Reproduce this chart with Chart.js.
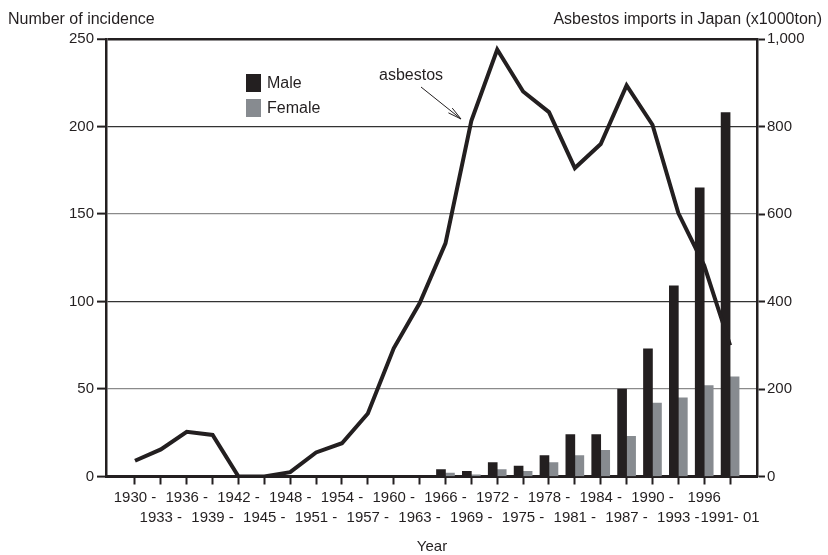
<!DOCTYPE html>
<html>
<head>
<meta charset="utf-8">
<title>Asbestos imports and mesothelioma incidence in Japan</title>
<script src="https://cdn.jsdelivr.net/npm/chart.js@4/dist/chart.umd.min.js"></script>
<style>
  html, body { margin: 0; padding: 0; background: #ffffff; }
  #chart { display: block; }
</style>
</head>
<body>
<canvas id="chart" width="828" height="555"></canvas>
<script>
// Three-year periods along the x axis
const periods = ['1930 -', '1933 -', '1936 -', '1939 -', '1942 -', '1945 -', '1948 -', '1951 -',
  '1954 -', '1957 -', '1960 -', '1963 -', '1966 -', '1969 -', '1972 -', '1975 -', '1978 -',
  '1981 -', '1984 -', '1987 -', '1990 -', '1993 -', '1996', '1991- 01'];

// Number of incidence per period (left axis)
const maleCases = [null, null, null, null, null, null, null, null, null, null, null, null,
  4, 3, 8, 6, 12, 24, 24, 50, 73, 109, 165, 208];
const femaleCases = [null, null, null, null, null, null, null, null, null, null, null, null,
  2, 1, 4, 3, 8, 12, 15, 23, 42, 45, 52, 57];

// Asbestos imports in Japan, x1000 ton (right axis)
const asbestosImports = [36, 62, 102, 95, 0, 0, 10, 55, 76, 144, 293, 396,
  533, 813, 976, 880, 833, 705, 760, 894, 804, 602, 482, 300];

// Axis tick values
const incidenceTicks = [0, 50, 100, 150, 200, 250];
const importTicks = [0, 200, 400, 600, 800, 1000];

const INK = '#231f20';
const GREY = '#878b90';
const FONT = "'Liberation Sans', Arial, Helvetica, sans-serif";

Chart.defaults.font.family = FONT;
Chart.defaults.font.size = 15;
Chart.defaults.color = INK;

const toPoints = arr => arr.map((v, i) => ({ x: i, y: v }));

// Titles, legend and the "asbestos" pointer
const decorations = {
  id: 'decorations',
  afterDraw(chart) {
    const c = chart.ctx;
    c.save();
    c.fillStyle = INK;
    c.textBaseline = 'alphabetic';

    c.font = '16px ' + FONT;
    c.textAlign = 'left';
    c.fillText('Number of incidence', 8, 24);
    c.textAlign = 'right';
    c.fillText('Asbestos imports in Japan (x1000ton)', 822, 24);
    c.font = '15px ' + FONT;
    c.textAlign = 'center';
    c.fillText('Year', 432, 551);

    // legend
    c.font = '16px ' + FONT;
    const items = [
      { label: chart.data.datasets[0].label, color: chart.data.datasets[0].backgroundColor, y: 74 },
      { label: chart.data.datasets[1].label, color: chart.data.datasets[1].backgroundColor, y: 99 }
    ];
    c.textAlign = 'left';
    c.textBaseline = 'middle';
    items.forEach(it => {
      c.fillStyle = it.color;
      c.fillRect(246, it.y, 15, 18);
      c.fillStyle = INK;
      c.fillText(it.label, 267, it.y + 10);
    });

    // annotation
    c.textBaseline = 'alphabetic';
    c.fillText('asbestos', 379, 80);
    const x0 = 421, y0 = 87, x1 = 461, y1 = 119;
    c.strokeStyle = INK;
    c.lineWidth = 1;
    c.beginPath();
    c.moveTo(x0, y0);
    c.lineTo(x1, y1);
    const ang = Math.atan2(y1 - y0, x1 - x0);
    const len = 14, spread = 0.22;
    c.moveTo(x1, y1);
    c.lineTo(x1 - len * Math.cos(ang - spread), y1 - len * Math.sin(ang - spread));
    c.moveTo(x1, y1);
    c.lineTo(x1 - len * Math.cos(ang + spread), y1 - len * Math.sin(ang + spread));
    c.stroke();
    c.restore();
  }
};

new Chart(document.getElementById('chart'), {
  data: {
    datasets: [
      {
        type: 'bar', label: 'Male', data: toPoints(maleCases), yAxisID: 'y',
        backgroundColor: INK, borderWidth: 0, barThickness: 9, order: 1
      },
      {
        type: 'bar', label: 'Female', data: toPoints(femaleCases), yAxisID: 'y',
        backgroundColor: GREY, borderWidth: 0, barThickness: 9, order: 1
      },
      {
        type: 'line', label: 'asbestos', data: toPoints(asbestosImports), yAxisID: 'y1',
        borderColor: INK, borderWidth: 4, pointRadius: 0, tension: 0,
        borderJoinStyle: 'miter', borderCapStyle: 'butt', fill: false, order: 0
      }
    ]
  },
  options: {
    responsive: false,
    animation: false,
    events: [],
    layout: { padding: { top: 39, left: 0, right: 0, bottom: 0 } },
    plugins: { legend: { display: false }, tooltip: { enabled: false } },
    scales: {
      x: {
        type: 'linear', position: 'bottom', min: -1.12, max: 24.04, offset: false,
        afterBuildTicks: s => { s.ticks = periods.map((_, i) => ({ value: i })); },
        afterFit: s => { s.height = 78.5; },
        grid: { offset: false, drawOnChartArea: false, drawTicks: true, tickLength: 8, tickColor: INK, tickWidth: 2 },
        border: { display: true, color: INK, width: 3 },
        ticks: {
          autoSkip: false, maxRotation: 0, minRotation: 0, padding: 3, color: INK,
          font: { size: 15, lineHeight: 1.33 },
          callback: v => {
            const i = Math.round(v);
            return i % 2 === 0 ? [periods[i], ''] : ['', periods[i]];
          }
        }
      },
      y: {
        position: 'left', min: 0, max: 250,
        afterBuildTicks: s => { s.ticks = incidenceTicks.map(v => ({ value: v })); },
        afterFit: s => { s.width = 106; },
        grid: {
          drawOnChartArea: true, drawTicks: true, tickLength: 9, tickColor: INK, tickWidth: 2,
          color: ctx => {
            const v = ctx.tick ? ctx.tick.value : null;
            if (v === 0) return 'rgba(0,0,0,0)';
            if (v === 250) return INK;
            return (v === 50 || v === 150) ? '#8a8a8a' : '#333333';
          },
          lineWidth: ctx => (ctx.tick && ctx.tick.value === 250) ? 2.5 : 1.2
        },
        border: { display: true, color: INK, width: 2.5 },
        ticks: { padding: 3, color: INK, font: { size: 15 } }
      },
      y1: {
        position: 'right', min: 0, max: 1000,
        afterBuildTicks: s => { s.ticks = importTicks.map(v => ({ value: v })); },
        afterFit: s => { s.width = 71; },
        grid: { drawOnChartArea: false, drawTicks: true, tickLength: 8, tickColor: INK, tickWidth: 2 },
        border: { display: true, color: INK, width: 2.5 },
        ticks: {
          padding: 2, color: INK, font: { size: 15 },
          callback: v => v.toLocaleString('en-US')
        }
      }
    }
  },
  plugins: [decorations]
});
</script>
</body>
</html>
